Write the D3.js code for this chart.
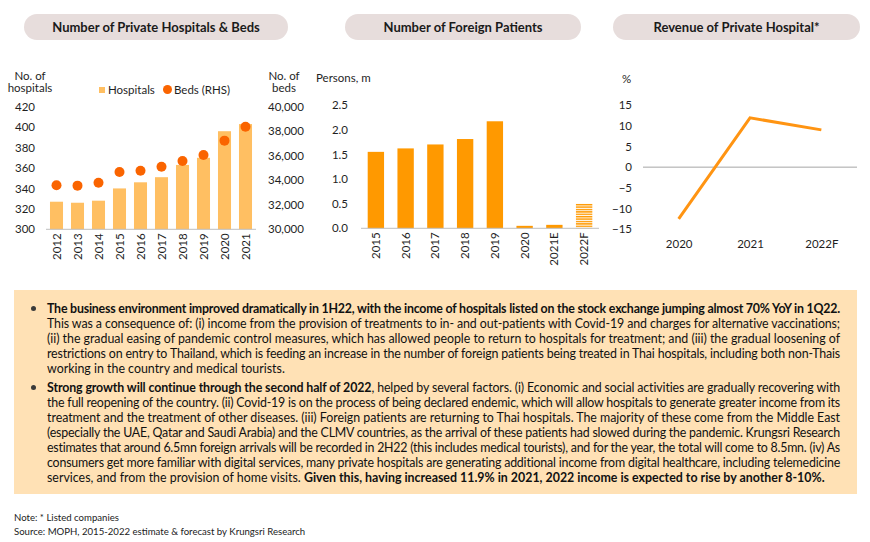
<!DOCTYPE html>
<html>
<head>
<meta charset="utf-8">
<script src="https://cdn.jsdelivr.net/npm/d3@7"></script>
<style>
  body { margin: 0; background: #fff; }
  #wrap { position: relative; width: 870px; height: 542px; overflow: hidden; }
  svg { position: absolute; left: 0; top: 0; }
  .ax text { font-family: Lato, "Open Sans", sans-serif; font-size: 11.5px; fill: #1f1f1f; }
  #box { position: absolute; left: 14px; top: 290px; width: 843px; height: 204px; background: #FFE1B5; }
  .ln { position: absolute; left: 33px; width: 793px; white-space: nowrap; font-family: Lato, sans-serif; font-size: 12.4px; color: #111; text-align: justify; text-align-last: justify; }
  .ln.last { text-align-last: left; }
  .bul { position: absolute; left: 17px; width: 5px; height: 5px; border-radius: 50%; background: #3a3a3a; }
  .note { position: absolute; left: 14px; font-family: Lato, sans-serif; font-size: 9.6px; color: #222; white-space: nowrap; }
</style>
</head>
<body>
<div id="wrap">
  <svg id="chart" width="870" height="542"></svg>
  <div id="box"></div>
</div>
<script>
// ---- data ----
const hospYears = ["2012", "2013", "2014", "2015", "2016", "2017", "2018", "2019", "2020", "2021"];
const hospitals = [327, 326, 328, 340, 346, 351, 363, 370, 396, 403];
const beds = [33590, 33560, 33800, 34670, 34780, 35100, 35570, 36060, 37230, 38370];
const hospTicks = [300, 320, 340, 360, 380, 400, 420];
const bedTicks = [30000, 32000, 34000, 36000, 38000, 40000];

const patientYears = ["2015", "2016", "2017", "2018", "2019", "2020", "2021E", "2022F"];
const patients = [1.55, 1.62, 1.70, 1.81, 2.17, 0.05, 0.07, 0.50];
const forecastYears = ["2022F"];
const patientTicks = [0, 0.5, 1.0, 1.5, 2.0, 2.5];

const revYears = ["2020", "2021", "2022F"];
const revenue = [-12.5, 11.9, 9.0];
const revTicks = [-15, -10, -5, 0, 5, 10, 15];

const titles = ["Number of Private Hospitals & Beds", "Number of Foreign Patients", "Revenue of Private Hospital*"];

const bullet1 = [
  "<b>The business environment improved dramatically in 1H22, with the income of hospitals listed on the stock exchange jumping almost 70% YoY in 1Q22.</b>",
  "This was a consequence of: (i) income from the provision of treatments to in- and out-patients with Covid-19 and charges for alternative vaccinations;",
  "(ii) the gradual easing of pandemic control measures, which has allowed people to return to hospitals for treatment; and (iii) the gradual loosening of",
  "restrictions on entry to Thailand, which is feeding an increase in the number of foreign patients being treated in Thai hospitals, including both non-Thais",
  "working in the country and medical tourists."
];
const bullet2 = [
  "<b>Strong growth will continue through the second half of 2022</b>, helped by several factors. (i) Economic and social activities are gradually recovering with",
  "the full reopening of the country. (ii) Covid-19 is on the process of being declared endemic, which will allow hospitals to generate greater income from its",
  "treatment and the treatment of other diseases. (iii) Foreign patients are returning to Thai hospitals. The majority of these come from the Middle East",
  "(especially the UAE, Qatar and Saudi Arabia) and the CLMV countries, as the arrival of these patients had slowed during the pandemic. Krungsri Research",
  "estimates that around 6.5mn foreign arrivals will be recorded in 2H22 (this includes medical tourists), and for the year, the total will come to 8.5mn. (iv) As",
  "consumers get more familiar with digital services, many private hospitals are generating additional income from digital healthcare, including telemedicine",
  "services, and from the provision of home visits. <b>Given this, having increased 11.9% in 2021, 2022 income is expected to rise by another 8-10%.</b>"
];
const notes = ["Note: * Listed companies", "Source: MOPH, 2015-2022 estimate & forecast by Krungsri Research"];

const svg = d3.select("#chart");
const font = "Lato, 'Open Sans', sans-serif";

/* === title pills === */
const pills = [[24, 288], [345, 581], [613, 860]];
pills.forEach((p, i) => {
  svg.append("rect")
    .attr("x", p[0]).attr("y", 14)
    .attr("width", p[1] - p[0]).attr("height", 26)
    .attr("rx", 13)
    .attr("fill", "#E7DDDC");
  svg.append("text")
    .attr("x", (p[0] + p[1]) / 2).attr("y", 31.5)
    .attr("text-anchor", "middle")
    .attr("font-family", font)
    .attr("font-size", "13px")
    .attr("font-weight", "700")
    .attr("fill", "#1a1a1a")
    .text(titles[i]);
});

function label(x, y, txt, anchor) {
  svg.append("text")
    .attr("x", x).attr("y", y)
    .attr("text-anchor", anchor || "start")
    .attr("font-family", font)
    .attr("font-size", "11.5px")
    .attr("fill", "#1f1f1f")
    .text(txt);
}

function rotateLabels(g) {
  g.selectAll("text")
    .attr("transform", "rotate(-90)")
    .attr("text-anchor", "end")
    .attr("x", -4)
    .attr("y", 0)
    .attr("dy", "0.35em");
}

/* === chart 1: hospitals & beds === */
const x1 = d3.scaleBand().domain(hospYears).range([46, 256]).paddingInner(0.38).paddingOuter(0.19);
const y1 = d3.scaleLinear().domain([300, 420]).range([229.3, 106.7]);
const y1r = d3.scaleLinear().domain([30000, 40000]).range([229.3, 106.7]);

svg.append("g").selectAll("rect")
  .data(hospYears)
  .join("rect")
  .attr("x", d => x1(d))
  .attr("y", (d, i) => y1(hospitals[i]))
  .attr("width", x1.bandwidth())
  .attr("height", (d, i) => y1(300) - y1(hospitals[i]))
  .attr("fill", "#FFBF62");

svg.append("line")
  .attr("x1", 46).attr("x2", 256)
  .attr("y1", y1(300)).attr("y2", y1(300))
  .attr("stroke", "#BFBFBF");

svg.append("g").selectAll("circle")
  .data(hospYears)
  .join("circle")
  .attr("cx", d => x1(d) + x1.bandwidth() / 2)
  .attr("cy", (d, i) => y1r(beds[i]))
  .attr("r", 5)
  .attr("fill", "#FA6400");

svg.append("g").attr("class", "ax")
  .attr("transform", "translate(35,0)")
  .call(d3.axisLeft(y1).tickValues(hospTicks).tickSize(0).tickPadding(0))
  .call(g => g.select(".domain").remove());

svg.append("g").attr("class", "ax")
  .attr("transform", "translate(268,0)")
  .call(d3.axisRight(y1r).tickValues(bedTicks).tickSize(0).tickPadding(0).tickFormat(d3.format(",")))
  .call(g => g.select(".domain").remove());

svg.append("g").attr("class", "ax")
  .attr("transform", `translate(0,${y1(300)})`)
  .call(d3.axisBottom(x1).tickSize(0).tickPadding(0))
  .call(g => g.select(".domain").remove())
  .call(rotateLabels);

label(30, 80, "No. of", "middle");
label(30, 92, "hospitals", "middle");
label(284, 80, "No. of", "middle");
label(284, 92, "beds", "middle");

// legend
svg.append("rect").attr("x", 99).attr("y", 87).attr("width", 6).attr("height", 6).attr("fill", "#FFBF62");
label(108, 93.5, "Hospitals");
svg.append("circle").attr("cx", 167.5).attr("cy", 89.5).attr("r", 4.5).attr("fill", "#FA6400");
label(174, 93.5, "Beds (RHS)");

/* === chart 2: foreign patients === */
const x2 = d3.scaleBand().domain(patientYears).range([361, 599]).paddingInner(0.45).paddingOuter(0.225);
const y2 = d3.scaleLinear().domain([0, 2.5]).range([228.3, 105]);

const defs = svg.append("defs");
const pat = defs.append("pattern")
  .attr("id", "stripes")
  .attr("patternUnits", "userSpaceOnUse")
  .attr("width", 8).attr("height", 2.4);
pat.append("rect").attr("width", 8).attr("height", 1.4).attr("fill", "#FF9900");

svg.append("g").selectAll("rect")
  .data(patientYears)
  .join("rect")
  .attr("x", d => x2(d))
  .attr("y", (d, i) => y2(patients[i]))
  .attr("width", x2.bandwidth())
  .attr("height", (d, i) => y2(0) - y2(patients[i]))
  .attr("fill", d => forecastYears.includes(d) ? "url(#stripes)" : "#FF9900");

svg.append("line")
  .attr("x1", 361).attr("x2", 599)
  .attr("y1", y2(0)).attr("y2", y2(0))
  .attr("stroke", "#BFBFBF");

svg.append("g").attr("class", "ax")
  .attr("transform", "translate(348,0)")
  .call(d3.axisLeft(y2).tickValues(patientTicks).tickSize(0).tickPadding(0).tickFormat(d3.format(".1f")))
  .call(g => g.select(".domain").remove());

svg.append("g").attr("class", "ax")
  .attr("transform", `translate(0,${y2(0)})`)
  .call(d3.axisBottom(x2).tickSize(0).tickPadding(0))
  .call(g => g.select(".domain").remove())
  .call(rotateLabels);

label(316, 82, "Persons, m");

/* === chart 3: revenue growth === */
const x3 = d3.scalePoint().domain(revYears).range([643, 857]).padding(0.5);
const y3 = d3.scaleLinear().domain([-15, 15]).range([229.3, 105]);

svg.append("line")
  .attr("x1", 643).attr("x2", 857)
  .attr("y1", y3(0)).attr("y2", y3(0))
  .attr("stroke", "#A6A6A6");

svg.append("path")
  .datum(revYears)
  .attr("fill", "none")
  .attr("stroke", "#FF9412")
  .attr("stroke-width", 3)
  .attr("d", d3.line().x(d => x3(d)).y((d, i) => y3(revenue[i])));

svg.append("g").attr("class", "ax")
  .attr("transform", "translate(632,0)")
  .call(d3.axisLeft(y3).tickValues(revTicks).tickSize(0).tickPadding(0))
  .call(g => g.select(".domain").remove());

svg.append("g").attr("class", "ax")
  .attr("transform", "translate(0,240)")
  .call(d3.axisBottom(x3).tickSize(0).tickPadding(0))
  .call(g => g.select(".domain").remove());

label(622, 83, "%");

/* === commentary box === */
const box = d3.select("#box");
function addLines(lines, top) {
  box.append("div").attr("class", "bul").style("top", (top + 5) + "px");
  lines.forEach((t, i) => {
    box.append("div")
      .attr("class", "ln" + (i === lines.length - 1 ? " last" : ""))
      .style("top", (top + i * 15) + "px")
      .html(t);
  });
}
addLines(bullet1, 11);
addLines(bullet2, 90);

// squeeze lines that are wider than the column
box.selectAll(".ln").each(function() {
  const el = this;
  el.style.width = "auto";
  const w = el.getBoundingClientRect().width;
  el.style.width = "793px";
  if (w > 793) {
    const n = el.textContent.length;
    el.style.letterSpacing = ((793 - w) / n) + "px";
  }
  el.style.whiteSpace = "normal";
  el.style.height = "15px";
  el.style.overflow = "visible";
});

notes.forEach((t, i) => {
  d3.select("#wrap").append("div")
    .attr("class", "note")
    .style("top", (512 + i * 14) + "px")
    .text(t);
});
</script>
</body>
</html>
